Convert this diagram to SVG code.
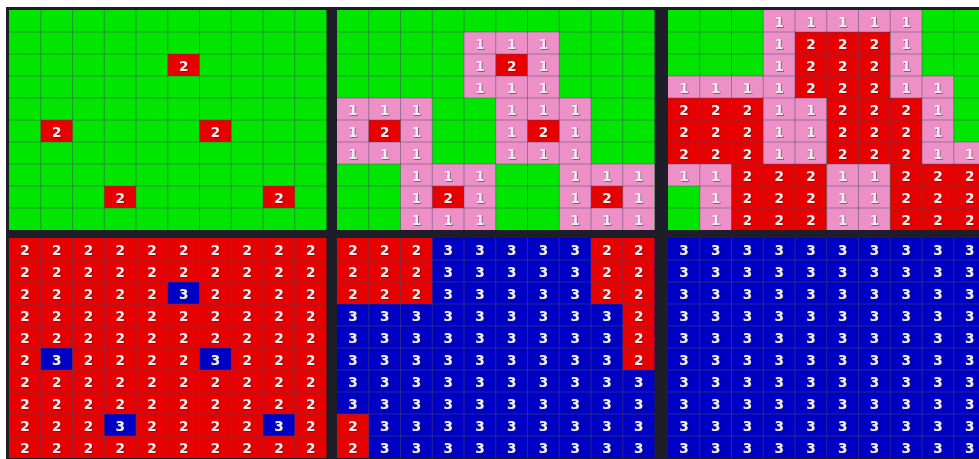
<svg xmlns="http://www.w3.org/2000/svg" width="979" height="459" viewBox="0 0 979 459">
<style>
.g{fill:#00e600}.r{fill:#e60000}.p{fill:#ee90c8}.b{fill:#0000c4}
.grid{fill:none;stroke:#4a4a66;stroke-opacity:0.5;stroke-width:1}
text{font-family:"DejaVu Sans","Liberation Sans",sans-serif;font-weight:bold;font-size:13.5px;fill:#eeeeee;text-anchor:middle;filter:url(#sh)}
</style>
<defs>
<filter id="sh" x="-30%" y="-30%" width="160%" height="160%"><feDropShadow dx="0.7" dy="0.7" stdDeviation="0.4" flood-color="#202020" flood-opacity="0.7"/></filter>
<path id="gridpath" d="M31.75 0V220M63.5 0V220M95.25 0V220M127 0V220M158.75 0V220M190.5 0V220M222.25 0V220M254 0V220M285.75 0V220M0 22H317.5M0 44H317.5M0 66H317.5M0 88H317.5M0 110H317.5M0 132H317.5M0 154H317.5M0 176H317.5M0 198H317.5"/>
</defs>
<rect width="979" height="459" fill="#ffffff"/>
<rect x="6" y="7" width="973" height="452" fill="#1e1e28"/>

<g id="panel1" transform="translate(9,10)">
<rect width="317.5" height="220" class="g"/>
<rect x="158.75" y="44" width="31.75" height="22" class="r"/>
<rect x="31.75" y="110" width="31.75" height="22" class="r"/>
<rect x="190.5" y="110" width="31.75" height="22" class="r"/>
<rect x="95.25" y="176" width="31.75" height="22" class="r"/>
<rect x="254" y="176" width="31.75" height="22" class="r"/>
<use href="#gridpath" class="grid"/>
<text x="174.6" y="61">2</text>
<text x="47.6" y="127">2</text>
<text x="206.4" y="127">2</text>
<text x="111.1" y="193">2</text>
<text x="269.9" y="193">2</text>
</g>

<g id="panel2" transform="translate(337,10)">
<rect width="317.5" height="220" class="g"/>
<rect x="127" y="22" width="95.25" height="66" class="p"/>
<rect x="0" y="88" width="95.25" height="66" class="p"/>
<rect x="158.75" y="88" width="95.25" height="66" class="p"/>
<rect x="63.5" y="154" width="95.25" height="66" class="p"/>
<rect x="222.25" y="154" width="95.25" height="66" class="p"/>
<rect x="158.75" y="44" width="31.75" height="22" class="r"/>
<rect x="31.75" y="110" width="31.75" height="22" class="r"/>
<rect x="190.5" y="110" width="31.75" height="22" class="r"/>
<rect x="95.25" y="176" width="31.75" height="22" class="r"/>
<rect x="254" y="176" width="31.75" height="22" class="r"/>
<use href="#gridpath" class="grid"/>
<text x="142.9" y="39">1</text><text x="174.6" y="39">1</text><text x="206.4" y="39">1</text>
<text x="142.9" y="61">1</text><text x="174.6" y="61">2</text><text x="206.4" y="61">1</text>
<text x="142.9" y="83">1</text><text x="174.6" y="83">1</text><text x="206.4" y="83">1</text>
<text x="15.9" y="105">1</text><text x="47.6" y="105">1</text><text x="79.4" y="105">1</text>
<text x="15.9" y="127">1</text><text x="47.6" y="127">2</text><text x="79.4" y="127">1</text>
<text x="15.9" y="149">1</text><text x="47.6" y="149">1</text><text x="79.4" y="149">1</text>
<text x="174.6" y="105">1</text><text x="206.4" y="105">1</text><text x="238.1" y="105">1</text>
<text x="174.6" y="127">1</text><text x="206.4" y="127">2</text><text x="238.1" y="127">1</text>
<text x="174.6" y="149">1</text><text x="206.4" y="149">1</text><text x="238.1" y="149">1</text>
<text x="79.4" y="171">1</text><text x="111.1" y="171">1</text><text x="142.9" y="171">1</text>
<text x="79.4" y="193">1</text><text x="111.1" y="193">2</text><text x="142.9" y="193">1</text>
<text x="79.4" y="215">1</text><text x="111.1" y="215">1</text><text x="142.9" y="215">1</text>
<text x="238.1" y="171">1</text><text x="269.9" y="171">1</text><text x="301.6" y="171">1</text>
<text x="238.1" y="193">1</text><text x="269.9" y="193">2</text><text x="301.6" y="193">1</text>
<text x="238.1" y="215">1</text><text x="269.9" y="215">1</text><text x="301.6" y="215">1</text>
</g>

<g id="panel3" transform="translate(668,10)">
<rect width="317.5" height="220" class="g"/>
<rect x="95.25" y="0" width="158.75" height="22" class="p"/>
<rect x="95.25" y="22" width="31.75" height="44" class="p"/>
<rect x="127" y="22" width="95.25" height="44" class="r"/>
<rect x="222.25" y="22" width="31.75" height="44" class="p"/>
<rect x="0" y="66" width="127" height="22" class="p"/>
<rect x="127" y="66" width="95.25" height="22" class="r"/>
<rect x="222.25" y="66" width="63.5" height="22" class="p"/>
<rect x="0" y="88" width="95.25" height="66" class="r"/>
<rect x="95.25" y="88" width="63.5" height="66" class="p"/>
<rect x="158.75" y="88" width="95.25" height="66" class="r"/>
<rect x="254" y="88" width="31.75" height="44" class="p"/>
<rect x="254" y="132" width="63.5" height="22" class="p"/>
<rect x="0" y="154" width="63.5" height="22" class="p"/>
<rect x="31.75" y="176" width="31.75" height="44" class="p"/>
<rect x="63.5" y="154" width="95.25" height="66" class="r"/>
<rect x="158.75" y="154" width="63.5" height="66" class="p"/>
<rect x="222.25" y="154" width="95.25" height="66" class="r"/>
<use href="#gridpath" class="grid"/>
<text x="111.1" y="17">1</text><text x="142.9" y="17">1</text><text x="174.6" y="17">1</text><text x="206.4" y="17">1</text><text x="238.1" y="17">1</text>
<text x="111.1" y="39">1</text><text x="142.9" y="39">2</text><text x="174.6" y="39">2</text><text x="206.4" y="39">2</text><text x="238.1" y="39">1</text>
<text x="111.1" y="61">1</text><text x="142.9" y="61">2</text><text x="174.6" y="61">2</text><text x="206.4" y="61">2</text><text x="238.1" y="61">1</text>
<text x="15.9" y="83">1</text><text x="47.6" y="83">1</text><text x="79.4" y="83">1</text><text x="111.1" y="83">1</text><text x="142.9" y="83">2</text><text x="174.6" y="83">2</text><text x="206.4" y="83">2</text><text x="238.1" y="83">1</text><text x="269.9" y="83">1</text>
<text x="15.9" y="105">2</text><text x="47.6" y="105">2</text><text x="79.4" y="105">2</text><text x="111.1" y="105">1</text><text x="142.9" y="105">1</text><text x="174.6" y="105">2</text><text x="206.4" y="105">2</text><text x="238.1" y="105">2</text><text x="269.9" y="105">1</text>
<text x="15.9" y="127">2</text><text x="47.6" y="127">2</text><text x="79.4" y="127">2</text><text x="111.1" y="127">1</text><text x="142.9" y="127">1</text><text x="174.6" y="127">2</text><text x="206.4" y="127">2</text><text x="238.1" y="127">2</text><text x="269.9" y="127">1</text>
<text x="15.9" y="149">2</text><text x="47.6" y="149">2</text><text x="79.4" y="149">2</text><text x="111.1" y="149">1</text><text x="142.9" y="149">1</text><text x="174.6" y="149">2</text><text x="206.4" y="149">2</text><text x="238.1" y="149">2</text><text x="269.9" y="149">1</text><text x="301.6" y="149">1</text>
<text x="15.9" y="171">1</text><text x="47.6" y="171">1</text><text x="79.4" y="171">2</text><text x="111.1" y="171">2</text><text x="142.9" y="171">2</text><text x="174.6" y="171">1</text><text x="206.4" y="171">1</text><text x="238.1" y="171">2</text><text x="269.9" y="171">2</text><text x="301.6" y="171">2</text>
<text x="47.6" y="193">1</text><text x="79.4" y="193">2</text><text x="111.1" y="193">2</text><text x="142.9" y="193">2</text><text x="174.6" y="193">1</text><text x="206.4" y="193">1</text><text x="238.1" y="193">2</text><text x="269.9" y="193">2</text><text x="301.6" y="193">2</text>
<text x="47.6" y="215">1</text><text x="79.4" y="215">2</text><text x="111.1" y="215">2</text><text x="142.9" y="215">2</text><text x="174.6" y="215">1</text><text x="206.4" y="215">1</text><text x="238.1" y="215">2</text><text x="269.9" y="215">2</text><text x="301.6" y="215">2</text>
</g>

<g id="panel4" transform="translate(9,238)">
<rect width="317.5" height="220" class="r"/>
<rect x="158.75" y="44" width="31.75" height="22" class="b"/>
<rect x="31.75" y="110" width="31.75" height="22" class="b"/>
<rect x="190.5" y="110" width="31.75" height="22" class="b"/>
<rect x="95.25" y="176" width="31.75" height="22" class="b"/>
<rect x="254" y="176" width="31.75" height="22" class="b"/>
<use href="#gridpath" class="grid"/>
<text x="15.9" y="17">2</text><text x="47.6" y="17">2</text><text x="79.4" y="17">2</text><text x="111.1" y="17">2</text><text x="142.9" y="17">2</text><text x="174.6" y="17">2</text><text x="206.4" y="17">2</text><text x="238.1" y="17">2</text><text x="269.9" y="17">2</text><text x="301.6" y="17">2</text>
<text x="15.9" y="39">2</text><text x="47.6" y="39">2</text><text x="79.4" y="39">2</text><text x="111.1" y="39">2</text><text x="142.9" y="39">2</text><text x="174.6" y="39">2</text><text x="206.4" y="39">2</text><text x="238.1" y="39">2</text><text x="269.9" y="39">2</text><text x="301.6" y="39">2</text>
<text x="15.9" y="61">2</text><text x="47.6" y="61">2</text><text x="79.4" y="61">2</text><text x="111.1" y="61">2</text><text x="142.9" y="61">2</text><text x="174.6" y="61">3</text><text x="206.4" y="61">2</text><text x="238.1" y="61">2</text><text x="269.9" y="61">2</text><text x="301.6" y="61">2</text>
<text x="15.9" y="83">2</text><text x="47.6" y="83">2</text><text x="79.4" y="83">2</text><text x="111.1" y="83">2</text><text x="142.9" y="83">2</text><text x="174.6" y="83">2</text><text x="206.4" y="83">2</text><text x="238.1" y="83">2</text><text x="269.9" y="83">2</text><text x="301.6" y="83">2</text>
<text x="15.9" y="105">2</text><text x="47.6" y="105">2</text><text x="79.4" y="105">2</text><text x="111.1" y="105">2</text><text x="142.9" y="105">2</text><text x="174.6" y="105">2</text><text x="206.4" y="105">2</text><text x="238.1" y="105">2</text><text x="269.9" y="105">2</text><text x="301.6" y="105">2</text>
<text x="15.9" y="127">2</text><text x="47.6" y="127">3</text><text x="79.4" y="127">2</text><text x="111.1" y="127">2</text><text x="142.9" y="127">2</text><text x="174.6" y="127">2</text><text x="206.4" y="127">3</text><text x="238.1" y="127">2</text><text x="269.9" y="127">2</text><text x="301.6" y="127">2</text>
<text x="15.9" y="149">2</text><text x="47.6" y="149">2</text><text x="79.4" y="149">2</text><text x="111.1" y="149">2</text><text x="142.9" y="149">2</text><text x="174.6" y="149">2</text><text x="206.4" y="149">2</text><text x="238.1" y="149">2</text><text x="269.9" y="149">2</text><text x="301.6" y="149">2</text>
<text x="15.9" y="171">2</text><text x="47.6" y="171">2</text><text x="79.4" y="171">2</text><text x="111.1" y="171">2</text><text x="142.9" y="171">2</text><text x="174.6" y="171">2</text><text x="206.4" y="171">2</text><text x="238.1" y="171">2</text><text x="269.9" y="171">2</text><text x="301.6" y="171">2</text>
<text x="15.9" y="193">2</text><text x="47.6" y="193">2</text><text x="79.4" y="193">2</text><text x="111.1" y="193">3</text><text x="142.9" y="193">2</text><text x="174.6" y="193">2</text><text x="206.4" y="193">2</text><text x="238.1" y="193">2</text><text x="269.9" y="193">3</text><text x="301.6" y="193">2</text>
<text x="15.9" y="215">2</text><text x="47.6" y="215">2</text><text x="79.4" y="215">2</text><text x="111.1" y="215">2</text><text x="142.9" y="215">2</text><text x="174.6" y="215">2</text><text x="206.4" y="215">2</text><text x="238.1" y="215">2</text><text x="269.9" y="215">2</text><text x="301.6" y="215">2</text>
</g>

<g id="panel5" transform="translate(337,238)">
<rect width="317.5" height="220" class="b"/>
<rect x="0" y="0" width="95.25" height="66" class="r"/>
<rect x="254" y="0" width="63.5" height="66" class="r"/>
<rect x="285.75" y="66" width="31.75" height="66" class="r"/>
<rect x="0" y="176" width="31.75" height="44" class="r"/>
<use href="#gridpath" class="grid"/>
<text x="15.9" y="17">2</text><text x="47.6" y="17">2</text><text x="79.4" y="17">2</text><text x="111.1" y="17">3</text><text x="142.9" y="17">3</text><text x="174.6" y="17">3</text><text x="206.4" y="17">3</text><text x="238.1" y="17">3</text><text x="269.9" y="17">2</text><text x="301.6" y="17">2</text>
<text x="15.9" y="39">2</text><text x="47.6" y="39">2</text><text x="79.4" y="39">2</text><text x="111.1" y="39">3</text><text x="142.9" y="39">3</text><text x="174.6" y="39">3</text><text x="206.4" y="39">3</text><text x="238.1" y="39">3</text><text x="269.9" y="39">2</text><text x="301.6" y="39">2</text>
<text x="15.9" y="61">2</text><text x="47.6" y="61">2</text><text x="79.4" y="61">2</text><text x="111.1" y="61">3</text><text x="142.9" y="61">3</text><text x="174.6" y="61">3</text><text x="206.4" y="61">3</text><text x="238.1" y="61">3</text><text x="269.9" y="61">2</text><text x="301.6" y="61">2</text>
<text x="15.9" y="83">3</text><text x="47.6" y="83">3</text><text x="79.4" y="83">3</text><text x="111.1" y="83">3</text><text x="142.9" y="83">3</text><text x="174.6" y="83">3</text><text x="206.4" y="83">3</text><text x="238.1" y="83">3</text><text x="269.9" y="83">3</text><text x="301.6" y="83">2</text>
<text x="15.9" y="105">3</text><text x="47.6" y="105">3</text><text x="79.4" y="105">3</text><text x="111.1" y="105">3</text><text x="142.9" y="105">3</text><text x="174.6" y="105">3</text><text x="206.4" y="105">3</text><text x="238.1" y="105">3</text><text x="269.9" y="105">3</text><text x="301.6" y="105">2</text>
<text x="15.9" y="127">3</text><text x="47.6" y="127">3</text><text x="79.4" y="127">3</text><text x="111.1" y="127">3</text><text x="142.9" y="127">3</text><text x="174.6" y="127">3</text><text x="206.4" y="127">3</text><text x="238.1" y="127">3</text><text x="269.9" y="127">3</text><text x="301.6" y="127">2</text>
<text x="15.9" y="149">3</text><text x="47.6" y="149">3</text><text x="79.4" y="149">3</text><text x="111.1" y="149">3</text><text x="142.9" y="149">3</text><text x="174.6" y="149">3</text><text x="206.4" y="149">3</text><text x="238.1" y="149">3</text><text x="269.9" y="149">3</text><text x="301.6" y="149">3</text>
<text x="15.9" y="171">3</text><text x="47.6" y="171">3</text><text x="79.4" y="171">3</text><text x="111.1" y="171">3</text><text x="142.9" y="171">3</text><text x="174.6" y="171">3</text><text x="206.4" y="171">3</text><text x="238.1" y="171">3</text><text x="269.9" y="171">3</text><text x="301.6" y="171">3</text>
<text x="15.9" y="193">2</text><text x="47.6" y="193">3</text><text x="79.4" y="193">3</text><text x="111.1" y="193">3</text><text x="142.9" y="193">3</text><text x="174.6" y="193">3</text><text x="206.4" y="193">3</text><text x="238.1" y="193">3</text><text x="269.9" y="193">3</text><text x="301.6" y="193">3</text>
<text x="15.9" y="215">2</text><text x="47.6" y="215">3</text><text x="79.4" y="215">3</text><text x="111.1" y="215">3</text><text x="142.9" y="215">3</text><text x="174.6" y="215">3</text><text x="206.4" y="215">3</text><text x="238.1" y="215">3</text><text x="269.9" y="215">3</text><text x="301.6" y="215">3</text>
</g>

<g id="panel6" transform="translate(668,238)">
<rect width="317.5" height="220" class="b"/>
<use href="#gridpath" class="grid"/>
<text x="15.9" y="17">3</text><text x="47.6" y="17">3</text><text x="79.4" y="17">3</text><text x="111.1" y="17">3</text><text x="142.9" y="17">3</text><text x="174.6" y="17">3</text><text x="206.4" y="17">3</text><text x="238.1" y="17">3</text><text x="269.9" y="17">3</text><text x="301.6" y="17">3</text>
<text x="15.9" y="39">3</text><text x="47.6" y="39">3</text><text x="79.4" y="39">3</text><text x="111.1" y="39">3</text><text x="142.9" y="39">3</text><text x="174.6" y="39">3</text><text x="206.4" y="39">3</text><text x="238.1" y="39">3</text><text x="269.9" y="39">3</text><text x="301.6" y="39">3</text>
<text x="15.9" y="61">3</text><text x="47.6" y="61">3</text><text x="79.4" y="61">3</text><text x="111.1" y="61">3</text><text x="142.9" y="61">3</text><text x="174.6" y="61">3</text><text x="206.4" y="61">3</text><text x="238.1" y="61">3</text><text x="269.9" y="61">3</text><text x="301.6" y="61">3</text>
<text x="15.9" y="83">3</text><text x="47.6" y="83">3</text><text x="79.4" y="83">3</text><text x="111.1" y="83">3</text><text x="142.9" y="83">3</text><text x="174.6" y="83">3</text><text x="206.4" y="83">3</text><text x="238.1" y="83">3</text><text x="269.9" y="83">3</text><text x="301.6" y="83">3</text>
<text x="15.9" y="105">3</text><text x="47.6" y="105">3</text><text x="79.4" y="105">3</text><text x="111.1" y="105">3</text><text x="142.9" y="105">3</text><text x="174.6" y="105">3</text><text x="206.4" y="105">3</text><text x="238.1" y="105">3</text><text x="269.9" y="105">3</text><text x="301.6" y="105">3</text>
<text x="15.9" y="127">3</text><text x="47.6" y="127">3</text><text x="79.4" y="127">3</text><text x="111.1" y="127">3</text><text x="142.9" y="127">3</text><text x="174.6" y="127">3</text><text x="206.4" y="127">3</text><text x="238.1" y="127">3</text><text x="269.9" y="127">3</text><text x="301.6" y="127">3</text>
<text x="15.9" y="149">3</text><text x="47.6" y="149">3</text><text x="79.4" y="149">3</text><text x="111.1" y="149">3</text><text x="142.9" y="149">3</text><text x="174.6" y="149">3</text><text x="206.4" y="149">3</text><text x="238.1" y="149">3</text><text x="269.9" y="149">3</text><text x="301.6" y="149">3</text>
<text x="15.9" y="171">3</text><text x="47.6" y="171">3</text><text x="79.4" y="171">3</text><text x="111.1" y="171">3</text><text x="142.9" y="171">3</text><text x="174.6" y="171">3</text><text x="206.4" y="171">3</text><text x="238.1" y="171">3</text><text x="269.9" y="171">3</text><text x="301.6" y="171">3</text>
<text x="15.9" y="193">3</text><text x="47.6" y="193">3</text><text x="79.4" y="193">3</text><text x="111.1" y="193">3</text><text x="142.9" y="193">3</text><text x="174.6" y="193">3</text><text x="206.4" y="193">3</text><text x="238.1" y="193">3</text><text x="269.9" y="193">3</text><text x="301.6" y="193">3</text>
<text x="15.9" y="215">3</text><text x="47.6" y="215">3</text><text x="79.4" y="215">3</text><text x="111.1" y="215">3</text><text x="142.9" y="215">3</text><text x="174.6" y="215">3</text><text x="206.4" y="215">3</text><text x="238.1" y="215">3</text><text x="269.9" y="215">3</text><text x="301.6" y="215">3</text>
</g>
</svg>
